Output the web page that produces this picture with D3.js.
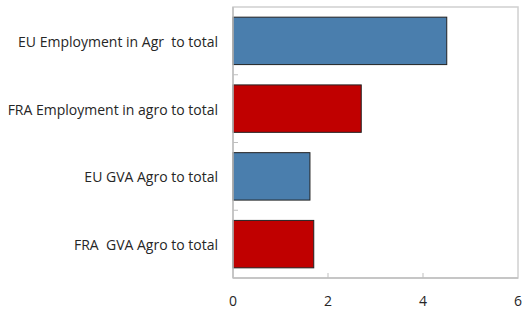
<!DOCTYPE html>
<html><head><meta charset="utf-8">
<script src="https://cdn.jsdelivr.net/npm/d3@7"></script>
<style>body{margin:0;background:#fff}svg{display:block}</style>
</head><body>
<script>
const categories = ["EU Employment in Agr  to total","FRA Employment in agro to total","EU GVA Agro to total","FRA  GVA Agro to total"];
const values = [4.5, 2.7, 1.62, 1.7];
const colors = ["#4a7ead","#c00000","#4a7ead","#c00000"];
const xTicks = [0,2,4,6];

const W=523,H=309;
const m={left:233,right:5,top:7,bottom:31};
const svg=d3.select("body").append("svg").attr("width",W).attr("height",H);
const x=d3.scaleLinear().domain([0,6]).range([m.left,W-m.right]);
const y=d3.scaleBand().domain(categories).range([m.top,H-m.bottom]).paddingInner(0.3).paddingOuter(0.15);
const font="'Open Sans', sans-serif";
svg.append("rect").attr("x",m.left).attr("y",m.top).attr("width",W-m.right-m.left).attr("height",H-m.bottom-m.top)
  .attr("fill","none").attr("stroke","#d0d0d0").attr("stroke-width",1.5);
svg.selectAll("rect.bar").data(categories).join("rect").attr("class","bar")
  .attr("x",x(0)).attr("y",d=>y(d)).attr("width",(d,i)=>x(values[i])-x(0)).attr("height",y.bandwidth())
  .attr("fill",(d,i)=>colors[i]).attr("stroke","#222").attr("stroke-width",1);
svg.append("line").attr("x1",m.left).attr("x2",m.left).attr("y1",m.top).attr("y2",H-m.bottom).attr("stroke","#bfbfbf").attr("stroke-width",1.5);
svg.append("line").attr("x1",m.left).attr("x2",W-m.right).attr("y1",H-m.bottom).attr("y2",H-m.bottom).attr("stroke","#bfbfbf").attr("stroke-width",1.5);
const step=y.step();
const bounds=d3.range(1,categories.length).map(i=>y(categories[i])-y.paddingInner()*step/2);
svg.selectAll("line.ct").data(bounds).join("line").attr("class","ct")
  .attr("x1",m.left).attr("x2",m.left+5).attr("y1",d=>d).attr("y2",d=>d).attr("stroke","#bfbfbf");
svg.selectAll("line.xt").data(xTicks.slice(1,-1)).join("line").attr("class","xt")
  .attr("x1",d=>x(d)).attr("x2",d=>x(d)).attr("y1",H-m.bottom).attr("y2",H-m.bottom-5).attr("stroke","#bfbfbf");
svg.selectAll("text.xl").data(xTicks).join("text").attr("class","xl")
  .attr("x",d=>x(d)).attr("y",H-m.bottom+28).attr("text-anchor","middle")
  .attr("font-family",font).attr("font-size",14).attr("fill","#262626").text(d=>d);
svg.selectAll("text.yl").data(categories).join("text").attr("class","yl")
  .attr("x",218).attr("y",d=>y(d)+y.bandwidth()/2+1).attr("dy","0.35em").attr("text-anchor","end")
  .attr("font-family",font).attr("font-size",14).attr("fill","#262626").style("white-space","pre").text(d=>d);
</script>
</body></html>
